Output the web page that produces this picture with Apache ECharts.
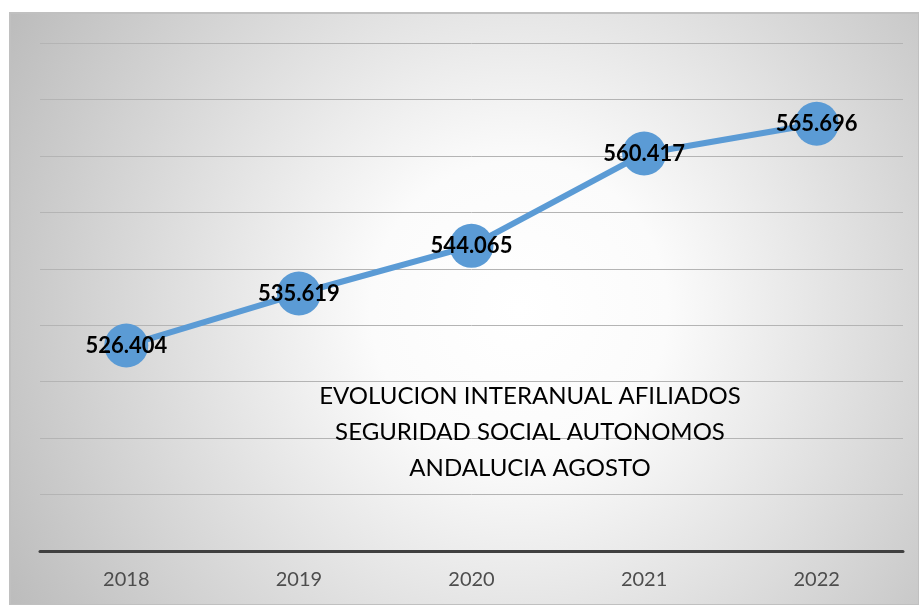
<!DOCTYPE html>
<html><head><meta charset="utf-8">
<script src="https://cdn.jsdelivr.net/npm/echarts@6/dist/echarts.min.js"></script>
<style>html,body{margin:0;padding:0;background:#fff}#c{width:919px;height:605px}</style>
</head><body><div id="c"></div>
<script>
const categories = ['2018','2019','2020','2021','2022'];
const afiliados = [526404, 535619, 544065, 560417, 565696];
const titleLines = ['EVOLUCION INTERANUAL AFILIADOS','SEGURIDAD SOCIAL AUTONOMOS','ANDALUCIA AGOSTO'];
const fmt = v => { const s = String(v); return s.slice(0, s.length-3) + '.' + s.slice(-3); };

const chart = echarts.init(document.getElementById('c'));
chart.setOption({
  animation: false,
  backgroundColor: '#ffffff',
  graphic: [{
    type: 'rect', z: -10, silent: true,
    shape: {x: 10, y: 13, width: 909, height: 592},
    style: {
      fill: new echarts.graphic.RadialGradient(0.56, 0.5, 1.0, [
        {offset: 0, color: '#ffffff'},
        {offset: 0.25, color: '#fbfbfb'},
        {offset: 1, color: '#bbbbbb'}
      ]),
      stroke: '#c0c0c0', lineWidth: 2
    }
  }],
  title: {
    text: titleLines.join('\n'),
    left: 525, top: 373, textAlign: 'center',
    textStyle: {fontFamily: 'Lato', fontWeight: 'normal', fontSize: 24, color: '#000', lineHeight: 36}
  },
  grid: {left: 40, right: 16, top: 43, bottom: 54, containLabel: false},
  xAxis: {
    type: 'category', data: categories, boundaryGap: true,
    axisLine: {lineStyle: {color: '#404040', width: 3}},
    axisTick: {show: false},
    axisLabel: {color: '#4d4d4d', fontSize: 20, fontFamily: 'Lato', margin: 19}
  },
  yAxis: {
    type: 'value', min: 490000, max: 580000, interval: 10000,
    axisLabel: {show: false}, axisLine: {show: false}, axisTick: {show: false},
    splitLine: {lineStyle: {color: '#b4b4b4', width: 1}}
  },
  series: [{
    type: 'line', data: afiliados,
    symbol: 'circle', symbolSize: 44,
    lineStyle: {color: '#5b9bd5', width: 6},
    itemStyle: {color: '#5b9bd5'},
    label: {show: true, position: 'inside', formatter: p => fmt(p.value),
      color: '#000', fontWeight: 'bold', fontSize: 22, fontFamily: 'Lato'}
  }]
});
</script></body></html>
